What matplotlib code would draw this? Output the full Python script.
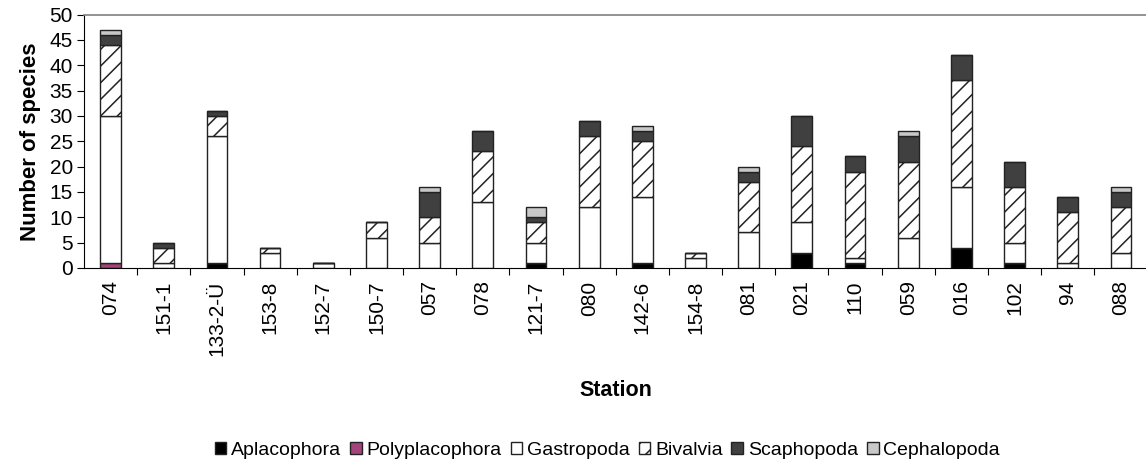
import numpy as np
import matplotlib.pyplot as plt

plt.rcParams['font.family'] = ['Liberation Sans', 'DejaVu Sans']
plt.rcParams['hatch.linewidth'] = 1.1

stations = ['074', '151-1', '133-2-Ü', '153-8', '152-7', '150-7', '057', '078', '121-7', '080',
            '142-6', '154-8', '081', '021', '110', '059', '016', '102', '94', '088']

aplacophora    = [0, 0, 1, 0, 0, 0, 0, 0, 1, 0, 1, 0, 0, 3, 1, 0, 4, 1, 0, 0]
polyplacophora = [1, 0, 0, 0, 0, 0, 0, 0, 0, 0, 0, 0, 0, 0, 0, 0, 0, 0, 0, 0]
gastropoda     = [29, 1, 25, 3, 1, 6, 5, 13, 4, 12, 13, 2, 7, 6, 1, 6, 12, 4, 1, 3]
bivalvia       = [14, 3, 4, 1, 0, 3, 5, 10, 4, 14, 11, 1, 10, 15, 17, 15, 21, 11, 10, 9]
scaphopoda     = [2, 1, 1, 0, 0, 0, 5, 4, 1, 3, 2, 0, 2, 6, 3, 5, 5, 5, 3, 3]
cephalopoda    = [1, 0, 0, 0, 0, 0, 1, 0, 2, 0, 1, 0, 1, 0, 0, 1, 0, 0, 0, 1]

groups = [
    ('Aplacophora', aplacophora, '#000000', None),
    ('Polyplacophora', polyplacophora, '#A3447A', None),
    ('Gastropoda', gastropoda, '#FFFFFF', None),
    ('Bivalvia', bivalvia, '#FFFFFF', '//'),
    ('Scaphopoda', scaphopoda, '#404040', None),
    ('Cephalopoda', cephalopoda, '#C8C8C8', None),
]

fig = plt.figure(figsize=(11.46, 4.66), dpi=100)
ax = fig.add_axes([0.0733, 0.425, 0.928, 0.5436])

x = np.arange(len(stations))
bottom = np.zeros(len(stations))
for name, vals, color, hatch in groups:
    vals = np.array(vals, dtype=float)
    ax.bar(x, vals, width=0.39, bottom=bottom, color=color, edgecolor='#222222',
           linewidth=1.0, hatch=hatch, label=name)
    bottom += vals

ax.set_xlim(-0.5, len(stations) - 0.5)
ax.set_ylim(0, 50)
ax.set_yticks(np.arange(0, 51, 5))
ax.tick_params(axis='y', direction='out', length=5, labelsize=15, pad=3)

# category ticks sit between the bars, labels under the bars
ax.set_xticks(x + 0.5, minor=False)
ax.set_xticklabels([])
ax.set_xticks(x, minor=True)
ax.set_xticklabels(stations, minor=True, rotation=90, fontsize=15)
ax.tick_params(axis='x', which='major', direction='out', length=5)
ax.tick_params(axis='x', which='minor', length=0, pad=9)

ax.spines['right'].set_visible(False)
ax.spines['top'].set_color('#808080')
ax.spines['top'].set_linewidth(1.2)

ax.set_ylabel('Number of species', fontsize=16, fontweight='bold', labelpad=6)
fig.text(0.537, 0.163, 'Station', ha='center', va='center', fontsize=15.5, fontweight='bold')

fig.legend(loc='center', bbox_to_anchor=(0.53, 0.034), ncol=6, frameon=False,
           fontsize=14, handlelength=0.6, handleheight=0.6, handletextpad=0.25,
           columnspacing=0.45, borderpad=0.1)

fig.savefig('out.png', dpi=100)
